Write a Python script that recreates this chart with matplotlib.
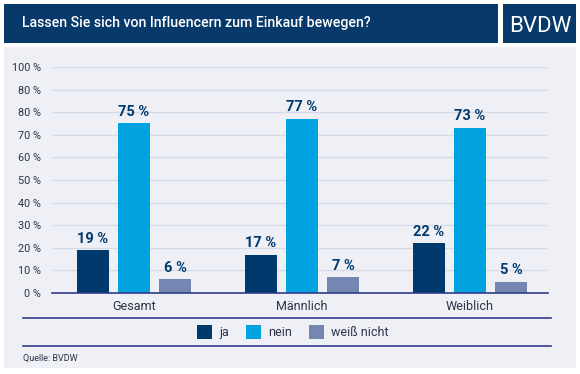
import numpy as np
import matplotlib
matplotlib.use('Agg')
import matplotlib.pyplot as plt
from matplotlib.patches import Rectangle
from matplotlib.lines import Line2D

plt.rcParams['font.family'] = ['Roboto', 'DejaVu Sans']

# ---------------- DATA ----------------
categories = ["Gesamt", "Männlich", "Weiblich"]
series_names = ["ja", "nein", "weiß nicht"]
ja = [19, 17, 22]
nein = [75, 77, 73]
weiss_nicht = [6, 7, 5]
tick_values = [0, 10, 20, 30, 40, 50, 60, 70, 80, 90, 100]
tick_labels = ["0 %", "10 %", "20 %", "30 %", "40 %", "50 %", "60 %", "70 %", "80 %", "80 %", "100 %"]

title = "Lassen Sie sich von Influencern zum Einkauf bewegen?"
source = "Quelle: BVDW"

# ---------------- STYLE ----------------
NAVY = "#003a6c"
CYAN = "#00a3e0"
GREYBLUE = "#7586b3"
HEADER = "#07396b"
PANEL = "#eff0f6"
LINE = "#2f3b8a"
GRID = "#d6d9e9"
TEXT = "#2b3348"
colors = [NAVY, CYAN, GREYBLUE]

W, H = 580, 374
fig = plt.figure(figsize=(W / 100, H / 100), dpi=100)
fig.patch.set_facecolor("white")

def px(x, y):
    # pixel coords (from top-left) -> figure fraction
    return x / W, 1 - y / H

# panel + header
x0, y0 = px(4, 368)
fig.patches.append(Rectangle((x0, y0), 572 / W, 321 / H, transform=fig.transFigure,
                             facecolor=PANEL, edgecolor="none", zorder=-2))
x0, y0 = px(4, 43)
fig.patches.append(Rectangle((x0, y0), 494 / W, 39 / H, transform=fig.transFigure,
                             facecolor=HEADER, edgecolor="none", zorder=-1))
x0, y0 = px(503, 43)
fig.patches.append(Rectangle((x0, y0), 73 / W, 39 / H, transform=fig.transFigure,
                             facecolor=HEADER, edgecolor="none", zorder=-1))
fig.text(*px(22, 23.5), title, color="white", fontsize=10.2, fontweight="medium",
         va="center", ha="left")
fig.text(*px(540, 26), "BVDW", color="white", fontsize=16,
         va="center", ha="center")

# ---------------- AXES ----------------
left, bottom = px(52, 293)
right, top = px(548, 67)
ax = fig.add_axes([left, bottom, right - left, top - bottom], zorder=2)
ax.set_facecolor("none")

x = np.arange(len(categories))
width = 0.19
step = 0.244
for i, (vals, c, name) in enumerate(zip([ja, nein, weiss_nicht], colors, series_names)):
    pos = x + (i - 1) * step
    ax.bar(pos, vals, width=width, color=c, zorder=3, label=name)
    for p, v in zip(pos, vals):
        ax.text(p, v + 2, f"{v} %", ha="center", va="bottom", fontsize=10.5,
                fontweight="bold", color=NAVY)

ax.set_xlim(-0.488, 2.464)
ax.set_ylim(0, 100)
ax.set_yticks(tick_values)
ax.set_yticklabels(tick_labels, fontsize=7.8, color=TEXT)
ax.set_xticks(x)
ax.set_xticklabels(categories, fontsize=9, color=TEXT)
ax.tick_params(axis="y", length=0, pad=8)
ax.tick_params(axis="x", length=0, pad=5)
ax.grid(axis="y", color=GRID, linewidth=1, zorder=0)
ax.set_axisbelow(True)
for s in ["top", "right", "left"]:
    ax.spines[s].set_visible(False)
ax.spines["bottom"].set_color(LINE)
ax.spines["bottom"].set_linewidth(1.2)
ax.spines["bottom"].set_zorder(4)

# separators
for yy in [318, 346]:
    xa, ya = px(23, yy)
    xb, _ = px(551, yy)
    fig.add_artist(Line2D([xa, xb], [ya, ya], transform=fig.transFigure,
                          color=LINE, linewidth=1.2))

# legend
handles, labels = ax.get_legend_handles_labels()
fig.legend(handles, labels, loc="center", bbox_to_anchor=px(293, 332), ncol=3,
           frameon=False, fontsize=9, handlelength=1.2, handleheight=1.3,
           handletextpad=0.6, columnspacing=1.3, labelcolor=TEXT)

fig.text(*px(23, 358), source, fontsize=6.5, color=TEXT, va="center", ha="left")

fig.savefig("out.png", dpi=100)
